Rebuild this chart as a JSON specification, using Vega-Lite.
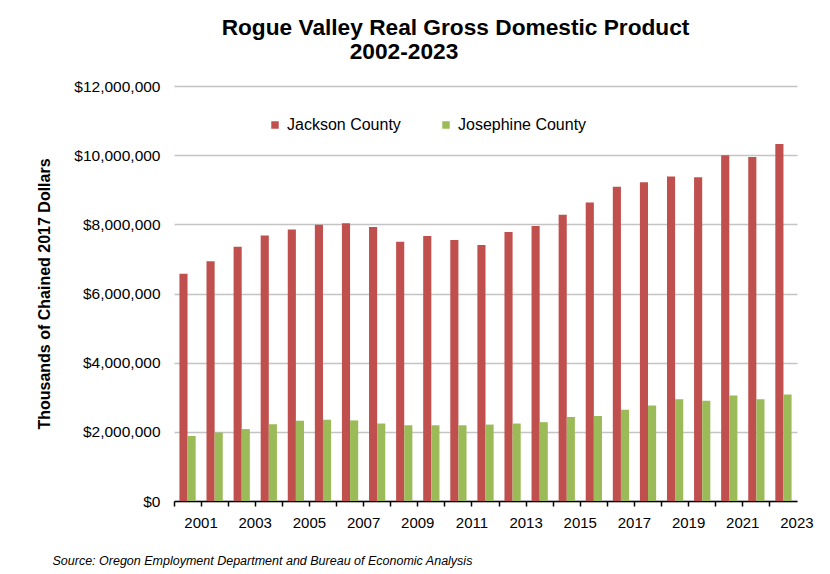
{
  "$schema": "https://vega.github.io/schema/vega-lite/v6.json",
  "width": 623,
  "height": 415,
  "autosize": {"type": "none"},
  "padding": {"left": 174, "top": 86, "right": 33, "bottom": 73},
  "background": "white",
  "title": {
    "text": "Rogue Valley Real Gross Domestic Product",
    "frame": "group",
    "anchor": "middle",
    "dx": -30,
    "offset": -2,
    "font": "Liberation Sans",
    "fontSize": 22.7,
    "fontWeight": "bold",
    "color": "#000000"
  },
  "data": {
    "values": [
      {"year": "2001", "county": "Jackson County", "value": 6570000},
      {"year": "2002", "county": "Jackson County", "value": 6930000},
      {"year": "2003", "county": "Jackson County", "value": 7350000},
      {"year": "2004", "county": "Jackson County", "value": 7680000},
      {"year": "2005", "county": "Jackson County", "value": 7850000},
      {"year": "2006", "county": "Jackson County", "value": 7990000},
      {"year": "2007", "county": "Jackson County", "value": 8030000},
      {"year": "2008", "county": "Jackson County", "value": 7920000},
      {"year": "2009", "county": "Jackson County", "value": 7500000},
      {"year": "2010", "county": "Jackson County", "value": 7660000},
      {"year": "2011", "county": "Jackson County", "value": 7550000},
      {"year": "2012", "county": "Jackson County", "value": 7400000},
      {"year": "2013", "county": "Jackson County", "value": 7780000},
      {"year": "2014", "county": "Jackson County", "value": 7950000},
      {"year": "2015", "county": "Jackson County", "value": 8280000},
      {"year": "2016", "county": "Jackson County", "value": 8630000},
      {"year": "2017", "county": "Jackson County", "value": 9090000},
      {"year": "2018", "county": "Jackson County", "value": 9220000},
      {"year": "2019", "county": "Jackson County", "value": 9380000},
      {"year": "2020", "county": "Jackson County", "value": 9360000},
      {"year": "2021", "county": "Jackson County", "value": 10000000},
      {"year": "2022", "county": "Jackson County", "value": 9950000},
      {"year": "2023", "county": "Jackson County", "value": 10320000},
      {"year": "2001", "county": "Josephine County", "value": 1880000},
      {"year": "2002", "county": "Josephine County", "value": 1980000},
      {"year": "2003", "county": "Josephine County", "value": 2080000},
      {"year": "2004", "county": "Josephine County", "value": 2220000},
      {"year": "2005", "county": "Josephine County", "value": 2320000},
      {"year": "2006", "county": "Josephine County", "value": 2350000},
      {"year": "2007", "county": "Josephine County", "value": 2330000},
      {"year": "2008", "county": "Josephine County", "value": 2240000},
      {"year": "2009", "county": "Josephine County", "value": 2190000},
      {"year": "2010", "county": "Josephine County", "value": 2190000},
      {"year": "2011", "county": "Josephine County", "value": 2190000},
      {"year": "2012", "county": "Josephine County", "value": 2210000},
      {"year": "2013", "county": "Josephine County", "value": 2240000},
      {"year": "2014", "county": "Josephine County", "value": 2280000},
      {"year": "2015", "county": "Josephine County", "value": 2430000},
      {"year": "2016", "county": "Josephine County", "value": 2460000},
      {"year": "2017", "county": "Josephine County", "value": 2640000},
      {"year": "2018", "county": "Josephine County", "value": 2760000},
      {"year": "2019", "county": "Josephine County", "value": 2940000},
      {"year": "2020", "county": "Josephine County", "value": 2900000},
      {"year": "2021", "county": "Josephine County", "value": 3050000},
      {"year": "2022", "county": "Josephine County", "value": 2940000},
      {"year": "2023", "county": "Josephine County", "value": 3080000}
    ]
  },
  "layer": [
    {
      "mark": {"type": "bar"},
      "encoding": {
        "x": {
          "field": "year",
          "type": "nominal",
          "scale": {"paddingInner": 0.4, "paddingOuter": 0.2},
          "axis": {
            "orient": "bottom",
            "bandPosition": -0.3333,
            "labelOffset": 13.5,
            "labelExpr": "toNumber(datum.value) % 2 == 1 ? datum.label : ''",
            "labelAngle": 0,
            "labelOverlap": false,
            "labelFont": "Liberation Sans",
            "labelFontSize": 15,
            "labelColor": "#000000",
            "labelPadding": 9,
            "ticks": true,
            "tickSize": 5,
            "tickColor": "#000000",
            "tickWidth": 1.5,
            "domain": true,
            "domainColor": "#000000",
            "domainWidth": 1.5,
            "grid": false,
            "title": "Source: Oregon Employment Department and Bureau of Economic Analysis",
            "titleFont": "Liberation Sans",
            "titleFontStyle": "italic",
            "titleFontWeight": "normal",
            "titleFontSize": 12.5,
            "titleColor": "#000000",
            "titleAnchor": "start",
            "titleAlign": "left",
            "titleX": -122,
            "titleY": 59,
            "titleBaseline": "middle"
          }
        },
        "xOffset": {"field": "county", "sort": ["Jackson County", "Josephine County"]},
        "y": {
          "field": "value",
          "type": "quantitative",
          "scale": {"domain": [0, 12000000]},
          "axis": {
            "values": [0, 2000000, 4000000, 6000000, 8000000, 10000000, 12000000],
            "format": "$,.0f",
            "domain": false,
            "ticks": false,
            "tickSize": 0,
            "grid": true,
            "gridColor": "#c4c4c4",
            "gridWidth": 1.6,
            "labelFont": "Liberation Sans",
            "labelFontSize": 15.5,
            "labelColor": "#000000",
            "labelPadding": 14,
            "title": "Thousands of Chained 2017 Dollars",
            "titleFont": "Liberation Sans",
            "titleFontSize": 16,
            "titleFontWeight": "bold",
            "titleColor": "#000000",
            "titlePadding": 21
          }
        },
        "color": {
          "field": "county",
          "type": "nominal",
          "scale": {"domain": ["Jackson County", "Josephine County"], "range": ["#C0504D", "#9BBB59"]},
          "legend": {
            "orient": "none",
            "legendX": 93,
            "legendY": 31,
            "direction": "horizontal",
            "title": null,
            "symbolType": "square",
            "symbolSize": 56,
            "symbolStrokeWidth": 0,
            "labelFont": "Liberation Sans",
            "labelFontSize": 16,
            "labelColor": "#000000",
            "labelOffset": 4,
            "columnPadding": 37
          }
        }
      }
    },
    {
      "mark": {"type": "bar", "opacity": 0},
      "encoding": {
        "x": {
          "field": "year",
          "type": "nominal",
          "axis": {
            "orient": "top",
            "labels": false,
            "ticks": false,
            "domain": false,
            "grid": false,
            "title": "2002-2023",
            "titleFont": "Liberation Sans",
            "titleFontSize": 22.7,
            "titleFontWeight": "bold",
            "titleColor": "#000000",
            "titleAnchor": "start",
            "titleAlign": "center",
            "titleX": 229.5,
            "titleY": -35,
            "titleBaseline": "middle"
          }
        },
        "y": {"field": "value", "type": "quantitative"}
      }
    }
  ],
  "resolve": {"axis": {"x": "independent"}},
  "config": {"view": {"stroke": null}}
}
